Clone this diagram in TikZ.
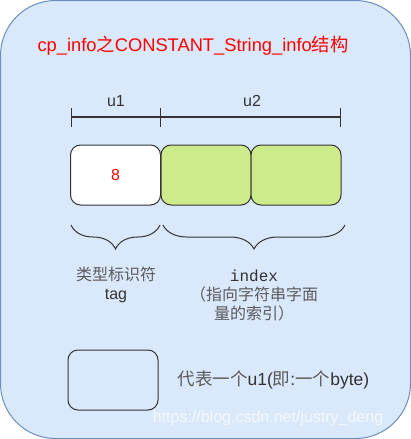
\documentclass[tikz,border=0pt]{standalone}
\usepackage{fontspec}
\setmainfont{Liberation Sans}
\setmonofont{Liberation Mono}
\newfontfamily\cjk{Noto Sans CJK SC}
\usetikzlibrary{arrows.meta,positioning,decorations.pathreplacing}
\definecolor{bgblue}{HTML}{DAE8FC}
\definecolor{bgline}{HTML}{6C8EBF}
\definecolor{cellgreen}{HTML}{CDEB8B}
\definecolor{inkgray}{HTML}{333333}
\definecolor{zhgray}{HTML}{5A5A5A}
\newcommand{\zh}[1]{{\cjk #1}}
\newcommand{\zhg}[1]{{\cjk\color{zhgray}#1}}
\tikzset{
  cell/.style={draw=inkgray, line width=1pt, rounded corners=10pt,
    minimum width=90pt, minimum height=60pt, inner sep=0pt},
  lbl/.style={text=inkgray, font=\fontsize{16}{19}\selectfont, align=center, inner sep=0pt},
  brace/.style={decorate, decoration={brace, amplitude=24pt, mirror}, draw=inkgray, line width=1pt}
}
\begin{document}
\begin{tikzpicture}[x=1pt,y=-1pt]
    \useasboundingbox (0,0) rectangle (411,439);
    \draw[rounded corners=55pt, fill=bgblue, draw=bgline, line width=1pt] (0.5,0.5) rectangle (410.5,438.5);

    \node[lbl, text=red, font=\fontsize{18.3}{21}\selectfont] (title) at (193,46) {cp\_info\zh{之}CONSTANT\_String\_info\zh{结构}};

    % width markers
    \coordinate (dl) at (71,117);
    \coordinate (dm) at (161,117);
    \coordinate (dr) at (341,117);
    \draw[inkgray, line width=1.2pt, {Bar[width=19pt]}-{Bar[width=19pt]}] (dl) -- (dm);
    \draw[inkgray, line width=1.2pt, -{Bar[width=19pt]}] (dm) -- (dr);
    \node[lbl] (u1) at (116,101) {u1};
    \node[lbl] (u2) at (252,101) {u2};

    % the three bytes
    \node[cell, fill=white, text=red, font=\fontsize{16}{19}\selectfont] (tag) at (115.5,175) {8};
    \foreach \n/\x in {idxa/206,idxb/296}
    {
    \node[cell, fill=cellgreen] (\n) at (\x,175) {};
    }

    % braces
    \coordinate (ba) at (71,225);
    \coordinate (bb) at (160,225);
    \coordinate (bc) at (163,225);
    \coordinate (bd) at (345,225);
    \draw[brace] (ba) -- (bb);
    \draw[brace] (bc) -- (bd);

    \node[lbl] (tagtext) at (116,285) {\zhg{类型标识符}\\tag};
    \node[lbl, anchor=north] (idxtext) at (254,270) {\texttt{index}\\\zhg{（指向字符串字面}\\\zhg{量的索引）}};

    % legend
    \node[cell, fill=none] (legend) at (113,380) {};
    \node[lbl, anchor=west, font=\fontsize{17.5}{20}\selectfont] (legendtext) at ([xshift=19pt]legend.east) {\zhg{代表一个}u1(\zhg{即}:\zhg{一个}byte)};

    \node[lbl, text=white, opacity=0.75, font=\fontsize{16}{19}\selectfont] (mark) at (268,418) {https://blog.csdn.net/justry\_deng};
\end{tikzpicture}
\end{document}
